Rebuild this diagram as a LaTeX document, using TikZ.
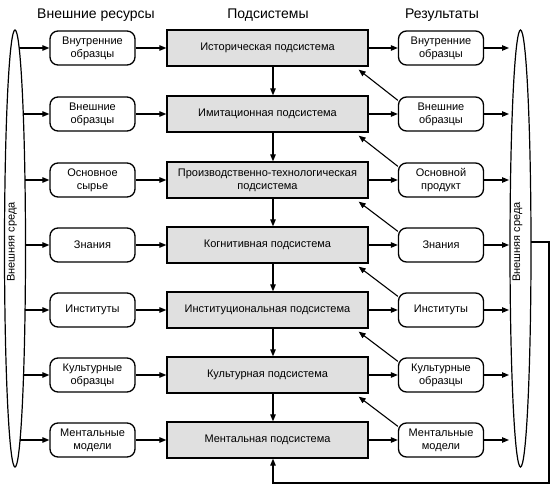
\documentclass[tikz,border=0pt]{standalone}
\usepackage{fontspec}
\setmainfont{Liberation Sans}
\usetikzlibrary{arrows.meta,shapes.geometric,calc}
\begin{document}
\begin{tikzpicture}[x=1pt,y=-1pt,
  arr/.style={-{Triangle[length=7pt,width=5.5pt]}, line width=1.1pt},
  subsys/.style={draw, line width=1.3pt, fill=black!12, minimum width=201pt, minimum height=36pt, align=center, font=\fontsize{11}{13}\selectfont, inner sep=1pt},
  res/.style={draw, line width=1.3pt, rounded corners=8pt, minimum width=85pt, minimum height=34pt, align=center, font=\fontsize{11}{13}\selectfont, inner sep=1pt},
  hdr/.style={font=\fontsize{14}{16}\selectfont},
  env/.style={draw, ellipse, line width=1.2pt, minimum width=21pt, minimum height=437pt, inner sep=0pt},
  envtxt/.style={rotate=90, font=\fontsize{11}{13}\selectfont}]
\useasboundingbox (0,0) rectangle (551,486);

% headers
\node[hdr] (h1) at (96,15) {Внешние ресурсы};
\node[hdr] (h2) at (268,15) {Подсистемы};
\node[hdr] (h3) at (442,15) {Результаты};

% environments
\node[env] (EL) at (15,248.5) {};
\node[env] (ER) at (520.5,248.5) {};
\node[envtxt] (tL) at (12,242) {Внешняя среда};
\node[envtxt] (tR) at (517.5,242) {Внешняя среда};

% rows
\node[res] (A1) at (92.5,48) {Внутренние\\образцы};
\node[res] (A2) at (92.5,114) {Внешние\\образцы};
\node[res] (A3) at (92.5,180) {Основное\\сырье};
\node[res] (A4) at (92.5,245) {Знания};
\node[res] (A5) at (92.5,310) {Институты};
\node[res] (A6) at (92.5,375) {Культурные\\образцы};
\node[res] (A7) at (92.5,440) {Ментальные\\модели};

\node[subsys] (M1) at (267.5,48) {Историческая подсистема};
\node[subsys] (M2) at (267.5,114) {Имитационная подсистема};
\node[subsys] (M3) at (267.5,180) {Производственно-технологическая\\подсистема};
\node[subsys] (M4) at (267.5,245) {Когнитивная подсистема};
\node[subsys] (M5) at (267.5,310) {Институциональная подсистема};
\node[subsys] (M6) at (267.5,375) {Культурная подсистема};
\node[subsys] (M7) at (267.5,440) {Ментальная подсистема};

\node[res] (R1) at (441,48) {Внутренние\\образцы};
\node[res] (R2) at (441,114) {Внешние\\образцы};
\node[res] (R3) at (441,180) {Основной\\продукт};
\node[res] (R4) at (441,245) {Знания};
\node[res] (R5) at (441,310) {Институты};
\node[res] (R6) at (441,375) {Культурные\\образцы};
\node[res] (R7) at (441,440) {Ментальные\\модели};

% ellipse boundary points
\coordinate (l1) at (19.0,48);
\coordinate (l2) at (22.9,114);
\coordinate (l3) at (24.5,180);
\coordinate (l4) at (25.0,245);
\coordinate (l5) at (24.6,310);
\coordinate (l6) at (23.2,375);
\coordinate (l7) at (19.8,440);
\foreach \i/\y in {1/48,2/114,3/180,4/245,5/310,6/375,7/440}
  \coordinate (r\i) at (509,\y);

\foreach \i in {1,...,7}{
  \draw[arr] (l\i) -- (A\i);
  \draw[arr] (A\i) -- (M\i);
  \draw[arr] (M\i) -- (R\i);
  \draw[arr] (R\i) -- (r\i);
}
\foreach \i/\j in {1/2,2/3,3/4,4/5,5/6,6/7}{
  \draw[arr] ([xshift=5.5pt]M\i.south) -- ([xshift=5.5pt]M\j.north);
  \draw[arr] ([yshift=-4pt]R\j.north west) -- ([xshift=-10pt,yshift=-3pt]M\i.south east);
}

% feedback loop
\coordinate (fb0) at (531,242);
\coordinate (fb1) at (549,242);
\coordinate (fb2) at (549,483);
\coordinate (fb3) at ($(M7.south)+(5.5,0)$);
\draw[arr] (fb0) -- (fb1) -- (fb2) -- (fb2 -| fb3) -- (fb3);
\end{tikzpicture}
\end{document}
